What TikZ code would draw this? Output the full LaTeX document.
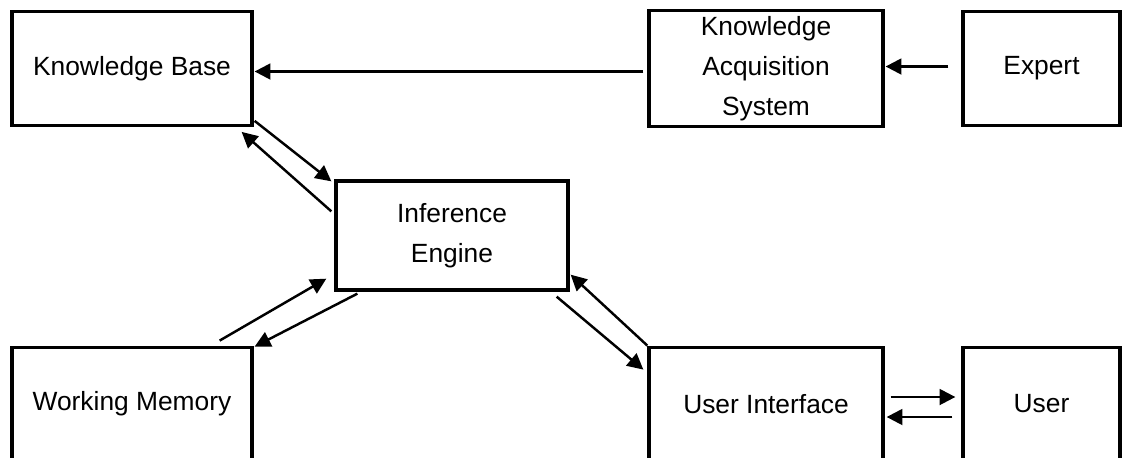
\documentclass[tikz,border=0pt]{standalone}
\usepackage{fontspec}
\setmainfont{Liberation Sans}
\usetikzlibrary{arrows.meta,calc}

\begin{document}
\begin{tikzpicture}[x=0.02cm, y=-0.02cm,
    blk/.style={draw, line width=1.9pt, minimum height=2.27cm, align=center,
        font=\fontsize{15}{22.8}\selectfont},
    arr/.style={line width=1.4pt, -{Triangle[length=9pt, width=9pt]}}]
    \useasboundingbox (0,0) rectangle (1142,457);
    %%Các khối
    \node[blk, minimum width=4.8cm] (kb) at (132,68.5) {Knowledge Base};
    \node[blk, minimum width=4.68cm] (kas) at (766,68.5) {Knowledge\\Acquisition\\System};
    \node[blk, minimum width=3.14cm] (expert) at (1041.5,68.5) {Expert};
    \node[blk, minimum width=4.64cm, minimum height=2.18cm] (ie) at (452,235.5) {Inference\\Engine};
    \node[blk, minimum width=4.8cm] (wm) at (132,404) {Working Memory};
    \node[blk, minimum width=4.68cm] (ui) at (766,404) {User Interface};
    \node[blk, minimum width=3.14cm] (user) at (1041.5,404) {User};
    %%Hàng trên
    \draw[arr] ($(kas.west)+(-4,3)$) -- ($(kb.east)+(1,3)$);
    \draw[arr] ($(expert.west)+(-13,-2)$) -- ($(kas.east)+(1,-2)$);
    %%Knowledge Base - Inference Engine
    \draw[arr] ($(kb.south east)+(1,-6)$) -- ($(ie.north west)+(-3,2)$);
    \draw[arr] ($(ie.north west)+(-3,32)$) -- ($(kb.south east)+(-12,5)$);
    %%Working Memory - Inference Engine
    \draw[arr] ($(wm.north east)+(-34,-5)$) -- ($(ie.south west)+(-8,-13)$);
    \draw[arr] ($(ie.south west)+(23,2)$) -- ($(wm.north east)+(1,1)$);
    %%Inference Engine - User Interface
    \draw[arr] ($(ie.south east)+(-13,5)$) -- ($(ui.north west)+(-4,24)$);
    \draw[arr] (ui.north west) -- ($(ie.south east)+(1,-17)$);
    %%User Interface - User
    \draw[arr] ($(ui.east)+(6,-7)$) -- ($(user.west)+(-6,-7)$);
    \draw[arr] ($(user.west)+(-9,13)$) -- ($(ui.east)+(2,13)$);
\end{tikzpicture}
\end{document}
